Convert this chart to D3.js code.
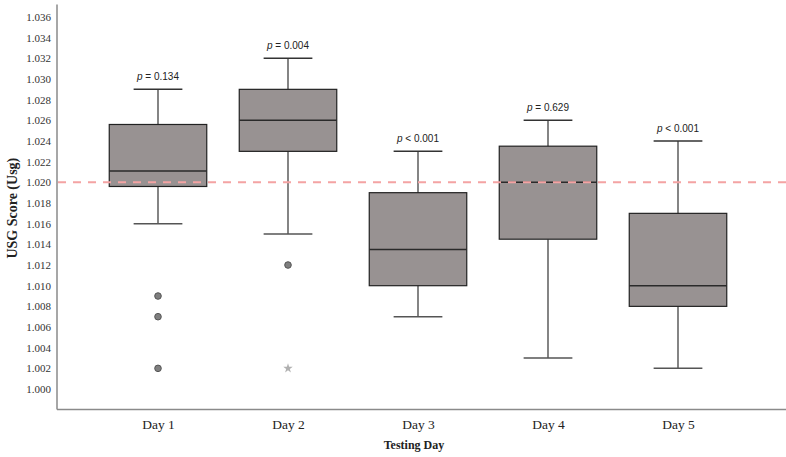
<!DOCTYPE html>
<html><head><meta charset="utf-8">
<script src="https://cdn.jsdelivr.net/npm/d3@7"></script>
<style>html,body{margin:0;padding:0;background:#fff;}</style>
</head><body>
<svg id="chart" width="786" height="457"></svg>
<script>
const categories = ["Day 1", "Day 2", "Day 3", "Day 4", "Day 5"];
const whiskerLow  = [1.016, 1.015, 1.007, 1.003, 1.002];
const q1          = [1.0196, 1.023, 1.010, 1.0145, 1.008];
const median      = [1.0211, 1.026, 1.0135, 1.020, 1.010];
const q3          = [1.0256, 1.029, 1.019, 1.0235, 1.017];
const whiskerHigh = [1.029, 1.032, 1.023, 1.026, 1.024];
const outliers = [[1.009, 1.007, 1.002], [1.012], [], [], []];
const extremes = [[], [1.002], [], [], []];
const pOps  = ["=", "=", "<", "=", "<"];
const pVals = ["0.134", "0.004", "0.001", "0.629", "0.001"];
const refValue = 1.020;
const yTicks = d3.range(0, 19).map(i => +(1 + i * 0.002).toFixed(3));

const svg = d3.select("#chart");
const y = d3.scaleLinear().domain([0.998, 1.0372]).range([409.7, 4.6]);
const x = d3.scalePoint().domain(categories).range([93, 743]).padding(0.5);
const boxW = x.step() * 0.75;
const capW = boxW / 2;
const axisX = 57, axisY = 409.5;

// axes lines
svg.append("line").attr("x1", axisX).attr("x2", axisX).attr("y1", y(1.0372)).attr("y2", axisY)
  .attr("stroke", "#8a8a8a").attr("stroke-width", 1.5);
svg.append("line").attr("x1", axisX).attr("x2", 786).attr("y1", axisY).attr("y2", axisY)
  .attr("stroke", "#8a8a8a").attr("stroke-width", 1.5);

// y ticks
const yAxis = d3.axisLeft(y).tickValues(yTicks).tickFormat(d3.format(".3f")).tickSize(0).tickPadding(6);
const gy = svg.append("g").attr("transform", `translate(${axisX},0)`).call(yAxis);
gy.select(".domain").remove();
gy.selectAll("text").attr("font-family", "Liberation Serif, serif").attr("font-size", 11).attr("fill", "#333");

// x ticks
const xAxis = d3.axisBottom(x).tickSize(0).tickPadding(10);
const gx = svg.append("g").attr("transform", `translate(0,${axisY})`).call(xAxis);
gx.select(".domain").remove();
gx.selectAll("text").attr("font-family", "Liberation Serif, serif").attr("font-size", 13.5).attr("fill", "#222");

// axis titles
svg.append("text").attr("x", 414).attr("y", 449).attr("text-anchor", "middle")
  .attr("font-family", "Liberation Serif, serif").attr("font-weight", "bold").attr("font-size", 12).attr("fill", "#222")
  .text("Testing Day");
svg.append("text").attr("transform", `translate(17,${y(1.0175)}) rotate(-90)`).attr("text-anchor", "middle")
  .attr("font-family", "Liberation Serif, serif").attr("font-weight", "bold").attr("font-size", 14).attr("fill", "#222")
  .text("USG Score (Usg)");

// boxes
const g = svg.append("g");
categories.forEach((c, i) => {
  const cx = x(c);
  g.append("line").attr("x1", cx).attr("x2", cx).attr("y1", y(whiskerHigh[i])).attr("y2", y(q3[i]))
    .attr("stroke", "#333").attr("stroke-width", 1.2);
  g.append("line").attr("x1", cx).attr("x2", cx).attr("y1", y(q1[i])).attr("y2", y(whiskerLow[i]))
    .attr("stroke", "#333").attr("stroke-width", 1.2);
  g.append("line").attr("x1", cx - capW / 2).attr("x2", cx + capW / 2).attr("y1", y(whiskerHigh[i])).attr("y2", y(whiskerHigh[i]))
    .attr("stroke", "#333").attr("stroke-width", 1.5);
  g.append("line").attr("x1", cx - capW / 2).attr("x2", cx + capW / 2).attr("y1", y(whiskerLow[i])).attr("y2", y(whiskerLow[i]))
    .attr("stroke", "#555").attr("stroke-width", 1.5);
  g.append("rect").attr("x", cx - boxW / 2).attr("width", boxW)
    .attr("y", y(q3[i])).attr("height", y(q1[i]) - y(q3[i]))
    .attr("fill", "#989292").attr("stroke", "#222").attr("stroke-width", 1.2);
  g.append("line").attr("x1", cx - boxW / 2).attr("x2", cx + boxW / 2).attr("y1", y(median[i])).attr("y2", y(median[i]))
    .attr("stroke", "#2a2a2a").attr("stroke-width", 1.5);
  outliers[i].forEach(v => {
    g.append("circle").attr("cx", cx).attr("cy", y(v)).attr("r", 3.3)
      .attr("fill", "#7f7f7f").attr("stroke", "#555").attr("stroke-width", 1);
  });
  extremes[i].forEach(v => {
    g.append("path").attr("d", d3.symbol(d3.symbolStar, 28)()).attr("transform", `translate(${cx},${y(v)})`)
      .attr("fill", "#b0b0b0");
  });
  const t = g.append("text").attr("x", cx).attr("y", y(whiskerHigh[i]) - 9).attr("text-anchor", "middle")
    .attr("font-family", "Liberation Sans, Arial, sans-serif").attr("font-size", 10).attr("fill", "#222");
  t.append("tspan").attr("font-style", "italic").text("p");
  t.append("tspan").text(` ${pOps[i]} ${pVals[i]}`);
});

// reference line
svg.append("line").attr("x1", axisX + 1).attr("x2", 786).attr("y1", y(refValue)).attr("y2", y(refValue))
  .attr("stroke", "#f4a3a3").attr("stroke-width", 2).attr("stroke-dasharray", "8,7");
</script>
</body></html>
